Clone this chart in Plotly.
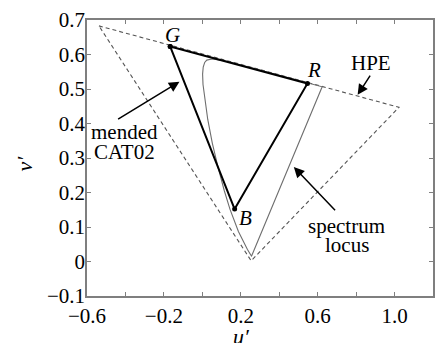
import plotly.graph_objects as go

# Spectrum locus (CIE 1976 u'v'), closed by the line of purples
locus_u = [0.2568, 0.2558, 0.2545, 0.2347, 0.2161, 0.1877, 0.1441, 0.1147, 0.0828, 0.0521,
           0.0282, 0.0119, 0.0035, 0.0014, 0.0046, 0.0123, 0.0231, 0.0501, 0.0792, 0.1127,
           0.1531, 0.2026, 0.2623, 0.3315, 0.4035, 0.4692, 0.5203, 0.5565, 0.5830, 0.6109,
           0.6234, 0.2568]
locus_v = [0.0166, 0.0159, 0.0169, 0.0350, 0.0549, 0.0871, 0.1510, 0.2044, 0.2708, 0.3427,
           0.4117, 0.4698, 0.5131, 0.5432, 0.5638, 0.5770, 0.5837, 0.5868, 0.5856, 0.5821,
           0.5766, 0.5694, 0.5604, 0.5501, 0.5393, 0.5296, 0.5219, 0.5165, 0.5125, 0.5084,
           0.5065, 0.0166]

# HPE primaries triangle
hpe_u = [-0.538, 1.023, 0.254, -0.538]
hpe_v = [0.683, 0.447, 0.002, 0.683]

# mended CAT02 primaries triangle (G, R, B)
cat_u = [-0.167, 0.547, 0.168, -0.167]
cat_v = [0.623, 0.516, 0.152, 0.623]

x_tickvals = [-0.6, -0.4, -0.2, 0.0, 0.2, 0.4, 0.6, 0.8, 1.0, 1.2]
x_ticktext = ["−0.6", "", "−0.2", "", "0.2", "", "0.6", "", "1.0", ""]
y_tickvals = [-0.1, 0.0, 0.1, 0.2, 0.3, 0.4, 0.5, 0.6, 0.7]
y_ticktext = ["−0.1", "0", "0.1", "0.2", "0.3", "0.4", "0.5", "0.6", "0.7"]

FONT = "Liberation Serif, DejaVu Serif, Times New Roman, serif"
FS = 21
AX = "#7f7f7f"

fig = go.Figure()
fig.add_trace(go.Scatter(x=hpe_u, y=hpe_v, mode="lines",
                         line=dict(color="#555555", width=1.1, dash="4px,3px"),
                         showlegend=False, hoverinfo="skip"))
fig.add_trace(go.Scatter(x=locus_u, y=locus_v, mode="lines",
                         line=dict(color="#6e6e6e", width=1.1),
                         showlegend=False, hoverinfo="skip"))
fig.add_trace(go.Scatter(x=cat_u, y=cat_v, mode="lines+markers",
                         line=dict(color="black", width=2),
                         marker=dict(color="black", size=5),
                         showlegend=False, hoverinfo="skip"))

ann = []
def txt(x, y, s, size=FS, **kw):
    ann.append(dict(x=x, y=y, text=s, showarrow=False, xref="x", yref="y",
                    font=dict(family=FONT, size=size, color="black"),
                    xanchor="center", yanchor="middle", **kw))

def arrow(x0, y0, x1, y1):
    ann.append(dict(x=x1, y=y1, ax=x0, ay=y0, xref="x", yref="y", axref="x", ayref="y",
                    text="", showarrow=True, arrowhead=2, arrowsize=1.4, arrowwidth=1.5,
                    arrowcolor="black", standoff=0, startstandoff=0))

txt(-0.155, 0.657, "<i>G</i>")
txt(0.579, 0.555, "<i>R</i>")
txt(0.226, 0.125, "<i>B</i>")
txt(0.879, 0.575, "HPE")
arrow(0.878, 0.543, 0.808, 0.483)
txt(-0.403, 0.374, "mended")
txt(-0.403, 0.316, "CAT02")
arrow(-0.446, 0.410, -0.119, 0.521)
txt(0.750, 0.103, "spectrum")
txt(0.750, 0.047, "locus")
arrow(0.698, 0.144, 0.476, 0.274)

ann.append(dict(x=-0.178, y=0.482, xref="paper", yref="paper", text="<i>v′</i>",
                showarrow=False, textangle=-90, xanchor="center", yanchor="middle",
                font=dict(family=FONT, size=22, color="black")))
ann.append(dict(x=0.447, y=-0.147, xref="paper", yref="paper", text="<i>u′</i>",
                showarrow=False, xanchor="center", yanchor="middle",
                font=dict(family=FONT, size=22, color="black")))

axis_common = dict(showline=True, mirror="ticks", linecolor=AX, linewidth=1.5,
                   ticks="inside", ticklen=4, tickcolor=AX, tickwidth=1,
                   showgrid=False, zeroline=False,
                   tickfont=dict(family=FONT, size=FS, color="black"))

fig.update_layout(
    width=438, height=343,
    margin=dict(l=87, r=3, t=20, b=47),
    paper_bgcolor="white", plot_bgcolor="white",
    xaxis=dict(range=[-0.6, 1.2], tickmode="array", tickvals=x_tickvals,
               ticktext=x_ticktext, **axis_common),
    yaxis=dict(range=[-0.1, 0.7], tickmode="array", tickvals=y_tickvals,
               ticktext=y_ticktext, ticklabelstandoff=-4, **axis_common),
    annotations=ann,
    font=dict(family=FONT, size=FS, color="black"),
)

# remove the default page margin so the figure fills the window exactly
fig.write_html("out.html", config={"displayModeBar": False},
               post_script="document.body.style.margin='0';document.body.style.overflow='hidden';")
